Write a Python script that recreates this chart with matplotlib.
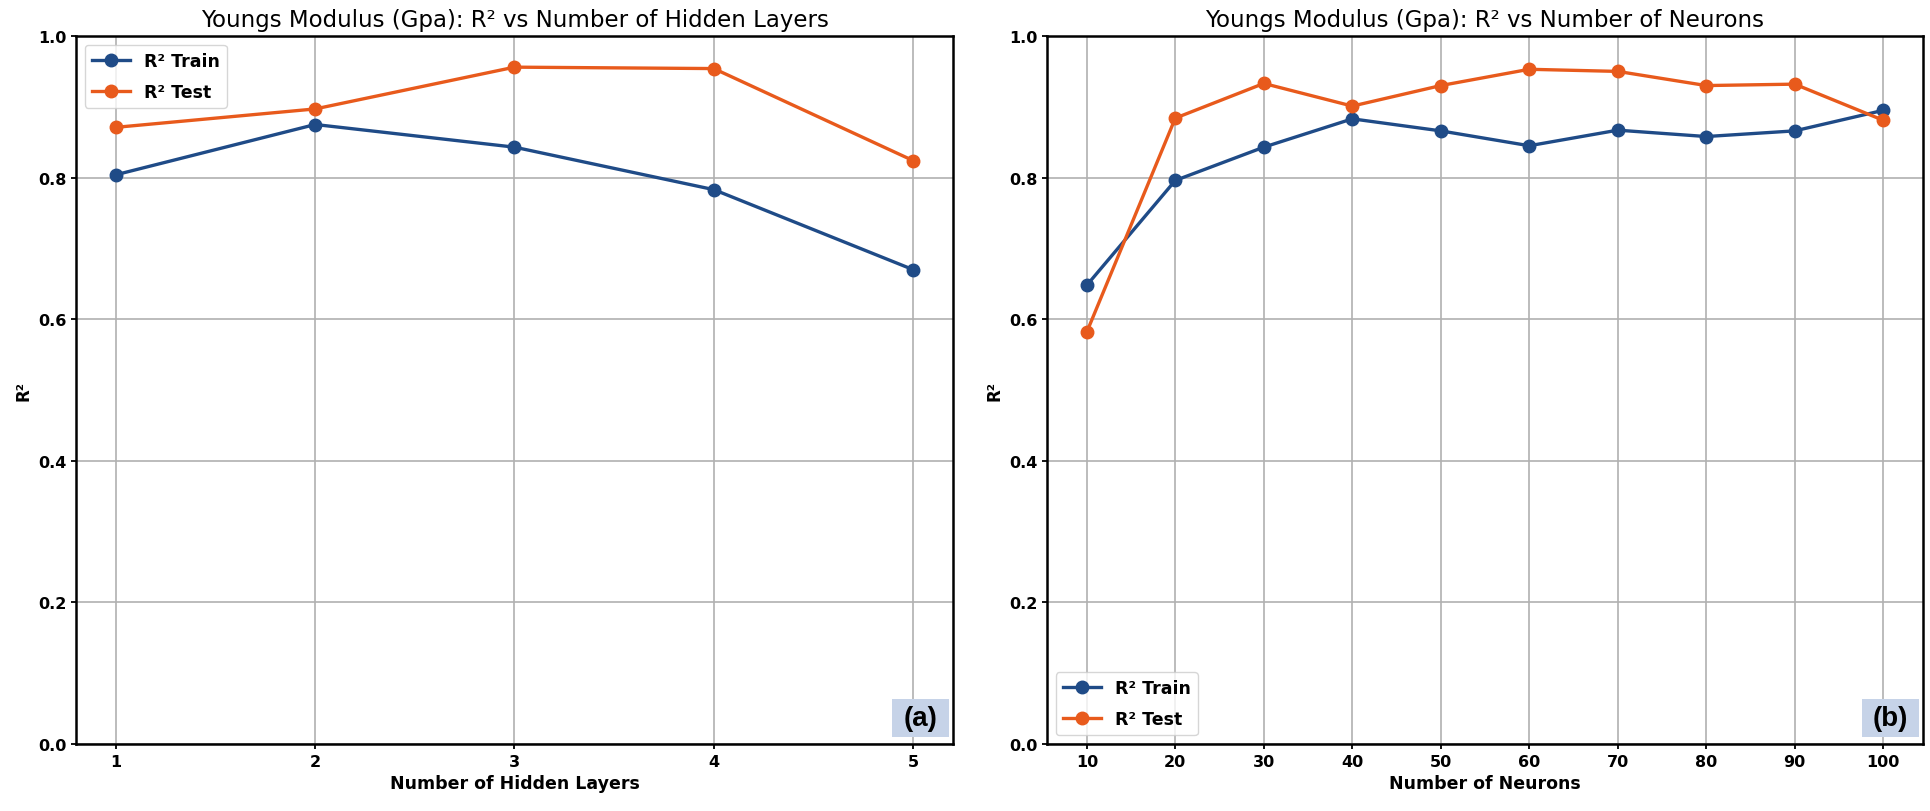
import matplotlib
matplotlib.use("Agg")
import matplotlib.pyplot as plt
from matplotlib.patches import Rectangle

# ---- data ----
layers = [1, 2, 3, 4, 5]
layers_train = [0.804, 0.875, 0.843, 0.783, 0.670]
layers_test = [0.871, 0.897, 0.956, 0.954, 0.824]

neurons = [10, 20, 30, 40, 50, 60, 70, 80, 90, 100]
neurons_train = [0.648, 0.796, 0.843, 0.883, 0.866, 0.845, 0.867, 0.858, 0.866, 0.895]
neurons_test = [0.582, 0.884, 0.933, 0.901, 0.930, 0.953, 0.950, 0.930, 0.932, 0.881]

titles = ["Youngs Modulus (Gpa): R\u00b2 vs Number of Hidden Layers",
          "Youngs Modulus (Gpa): R\u00b2 vs Number of Neurons"]
xlabels = ["Number of Hidden Layers", "Number of Neurons"]
ylabel = "R\u00b2"
series_labels = ["R\u00b2 Train", "R\u00b2 Test"]
panel_tags = ["(a)", "(b)"]
yticks = [0.0, 0.2, 0.4, 0.6, 0.8, 1.0]

TRAIN_C = "#1f4b87"
TEST_C = "#e85a1c"

plt.rcParams['font.family'] = ['DejaVu Sans']

fig = plt.figure(figsize=(19.3, 8.12), dpi=100)
ax1 = fig.add_axes([0.03938, 0.08251, 0.45440, 0.87192])
ax2 = fig.add_axes([0.54249, 0.08251, 0.45389, 0.87192])

panels = [
    (ax1, layers, layers_train, layers_test, "upper left"),
    (ax2, neurons, neurons_train, neurons_test, "lower left"),
]

for i, (ax, x, tr, te, loc) in enumerate(panels):
    ax.plot(x, tr, marker='o', color=TRAIN_C, lw=2.4, ms=9, label=series_labels[0], zorder=3)
    ax.plot(x, te, marker='o', color=TEST_C, lw=2.4, ms=9, label=series_labels[1], zorder=3)
    ax.set_ylim(0, 1.0)
    ax.set_yticks(yticks)
    ax.set_xticks(x)
    ax.grid(True, color='#b0b0b0', lw=1.2)
    ax.set_axisbelow(True)
    for s in ax.spines.values():
        s.set_linewidth(1.8)
        s.set_color('black')
    ax.tick_params(labelsize=11.5, width=1.3)
    for lab in ax.get_xticklabels() + ax.get_yticklabels():
        lab.set_fontweight('bold')
    ax.set_title(titles[i], fontsize=16.5, pad=7)
    ax.set_xlabel(xlabels[i], fontsize=12.5, fontweight='bold')
    ax.set_ylabel(ylabel, fontsize=12, fontweight='bold')
    ax.legend(loc=loc, prop={'size': 12.5, 'weight': 'bold'}, frameon=True, fancybox=True,
              labelspacing=0.75, handlelength=2.2)
    ax.add_patch(Rectangle((0.930, 0.010), 0.065, 0.054, transform=ax.transAxes,
                           facecolor='#c6d3e8', edgecolor='none', zorder=5, clip_on=False))
    ax.text(0.9625, 0.037, panel_tags[i], transform=ax.transAxes, ha='center', va='center',
            fontsize=20, fontweight='bold', family=['Liberation Sans', 'DejaVu Sans'], zorder=6)

fig.savefig("out.png", dpi=100, facecolor='white')
